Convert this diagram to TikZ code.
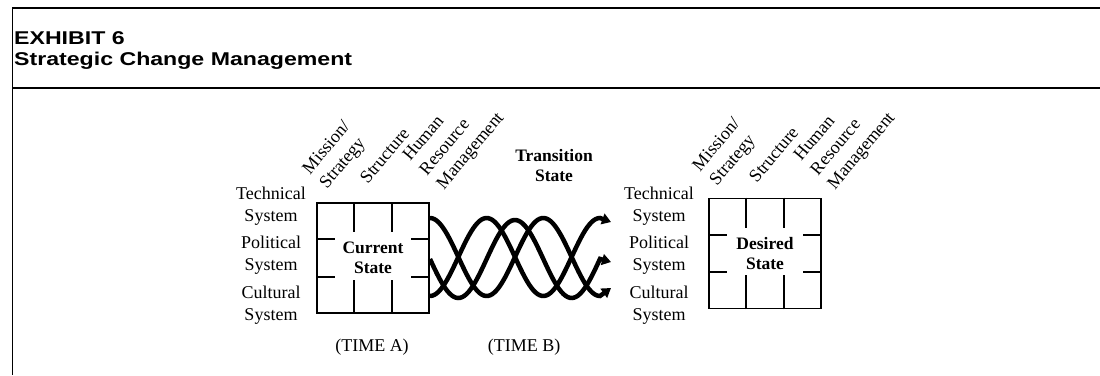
\documentclass[tikz,border=0pt]{standalone}
\usepackage{fontspec}
\setmainfont{Liberation Serif}
\newfontfamily\headfont[FakeStretch=1.25]{Liberation Sans}
\usetikzlibrary{calc,arrows.meta}
\tikzstyle{rule} = [line width=1.6pt]
\tikzstyle{statebox} = [draw, line width=1.8pt, minimum width=112pt, minimum height=110pt, inner sep=0pt, align=center, font=\fontsize{17.5}{20}\selectfont\bfseries]
\tikzstyle{stub} = [line width=1.8pt]
\tikzstyle{syslabel} = [align=center, inner sep=0pt, font=\fontsize{18}{22}\selectfont]
\tikzstyle{colhead} = [rotate=50, anchor=south west, align=left, inner sep=0pt, font=\fontsize{18}{22}\selectfont]
\tikzstyle{strand} = [line width=4.5pt, -{Triangle[length=9pt,width=11pt]}]
\newcommand{\boxstubs}[1]{%
  \foreach \f in {.333,.667} {
    \draw[stub] ($(#1.north west)!\f!(#1.north east)$) -- ++(0,30);
    \draw[stub] ($(#1.south west)!\f!(#1.south east)$) -- ++(0,-34);
    \draw[stub] ($(#1.north west)!\f!(#1.south west)$) -- ++(19,0);
    \draw[stub] ($(#1.north east)!\f!(#1.south east)$) -- ++(-19,0);
  }}

\begin{document}
\begin{tikzpicture}[x=1pt,y=-1pt]
\useasboundingbox (0,0) rectangle (1100,375);
\draw[rule] (12,8) -- (1100,8);
\draw[rule] (12,88) -- (1100,88);
\draw[line width=.8pt] (12,8) -- (12,375);
\node[anchor=north west, align=left, inner sep=0pt, font=\headfont\bfseries\fontsize{18.5}{21}\selectfont] (ttl) at (14,31) {EXHIBIT 6\\Strategic Change Management};

% current state
\node[statebox] (cur) at (373,258) {Current\\State};
\boxstubs{cur}
\node[syslabel] (tsL) at (271,206) {Technical\\System};
\node[syslabel] (psL) at (271,255) {Political\\System};
\node[syslabel] (csL) at (271,305) {Cultural\\System};
\node[colhead] (msL) at (330,192) {Mission/\\Strategy};
\node[colhead] (stL) at (368,185) {Structure};
\node[colhead] (hrL) at (447,193) {Human\\Resource\\Management};

% desired state
\node[statebox] (des) at (765,253.5) {Desired\\State};
\boxstubs{des}
\node[syslabel] (tsR) at (659,206) {Technical\\System};
\node[syslabel] (psR) at (659,255) {Political\\System};
\node[syslabel] (csR) at (659,305) {Cultural\\System};
\node[colhead] (msR) at (720,189) {Mission/\\Strategy};
\node[colhead] (stR) at (757,184) {Structure};
\node[colhead] (hrR) at (838,193) {Human\\Resource\\Management};

% transition
\node[syslabel, font=\fontsize{17.5}{20}\selectfont\bfseries] (trans) at (554,166) {Transition\\State};
\coordinate (tipT) at (611,222);
\coordinate (tipP) at (611,262);
\coordinate (tipC) at (611,288);
\draw[strand] plot[domain=430:600, samples=80] (\x,{257-39*cos(3.1774*(\x-430))}) -- (tipC);
\draw[strand] plot[domain=430:600, samples=80] (\x,{259+39*sin(3.1774*(\x-430))}) -- (tipP);
\draw[strand] plot[domain=430:600, samples=80] (\x,{257+39*cos(3.1774*(\x-430))}) -- (tipT);

\node[syslabel] (ta) at (372,347) {(TIME A)};
\node[syslabel] (tb) at (524,347) {(TIME B)};
\end{tikzpicture}
\end{document}
